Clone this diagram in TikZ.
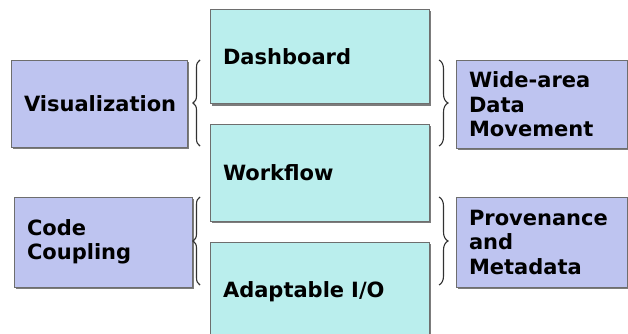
\documentclass[tikz,border=0pt]{standalone}
\usepackage{fontspec}
\setmainfont{DejaVu Sans}
\usetikzlibrary{decorations.pathreplacing,shadows}
\definecolor{cyanfill}{RGB}{186,238,237}
\definecolor{purplefill}{RGB}{190,196,240}
\definecolor{edgegray}{RGB}{110,110,110}
\definecolor{bracegray}{RGB}{50,50,50}
\tikzset{
  boxbase/.style={draw=edgegray, line width=1pt, anchor=center,
    font=\fontsize{21}{24.5}\selectfont\bfseries, align=left,
    drop shadow={shadow xshift=1.5pt, shadow yshift=-1.5pt, fill=edgegray, opacity=0.9}},
  taskbox/.style={boxbase, fill=cyanfill, minimum width=219pt, text width=193pt, inner xsep=13pt},
  areabox/.style={boxbase, fill=purplefill, inner xsep=13pt},
  bracestyle/.style={draw=bracegray, line width=1.1pt, decorate}
}
\begin{document}
\begin{tikzpicture}[x=1pt,y=-1pt]
\useasboundingbox (0,0) rectangle (628,334);
\clip (0,0) rectangle (628,334);
\fill[white] (0,0) rectangle (628,334);
% central stack
\node[taskbox, minimum height=94pt] (dash) at (319.5,57) {Dashboard};
\node[taskbox, minimum height=97pt] (work) at (319.5,172.5) {Workflow};
\node[taskbox, minimum height=100pt] (adapt) at (319.5,292) {Adaptable I/O};
% side boxes
\node[areabox, minimum width=176pt, text width=150pt, minimum height=86pt] (vis) at (99,104) {Visualization};
\node[areabox, minimum width=178pt, text width=152pt, minimum height=90pt] (code) at (103,242) {Code\\Coupling};
\node[areabox, minimum width=169pt, text width=145pt, minimum height=87pt] (wide) at (541.5,104.5) {Wide-area\\Data\\Movement};
\node[areabox, minimum width=169pt, text width=145pt, minimum height=90pt] (prov) at (541.5,242) {Provenance\\and\\Metadata};
% braces
\coordinate (lb1a) at (200,146);
\coordinate (lb1b) at (200,60);
\coordinate (lb2a) at (200,285);
\coordinate (lb2b) at (200,197);
\coordinate (rb1a) at (439,60);
\coordinate (rb1b) at (439,146);
\coordinate (rb2a) at (439,197);
\coordinate (rb2b) at (439,285);
\draw[bracestyle, decoration={brace, amplitude=7pt}] (lb1a) -- (lb1b);
\draw[bracestyle, decoration={brace, amplitude=7pt}] (lb2a) -- (lb2b);
\draw[bracestyle, decoration={brace, amplitude=9pt}] (rb1a) -- (rb1b);
\draw[bracestyle, decoration={brace, amplitude=9pt}] (rb2a) -- (rb2b);
\end{tikzpicture}
\end{document}
